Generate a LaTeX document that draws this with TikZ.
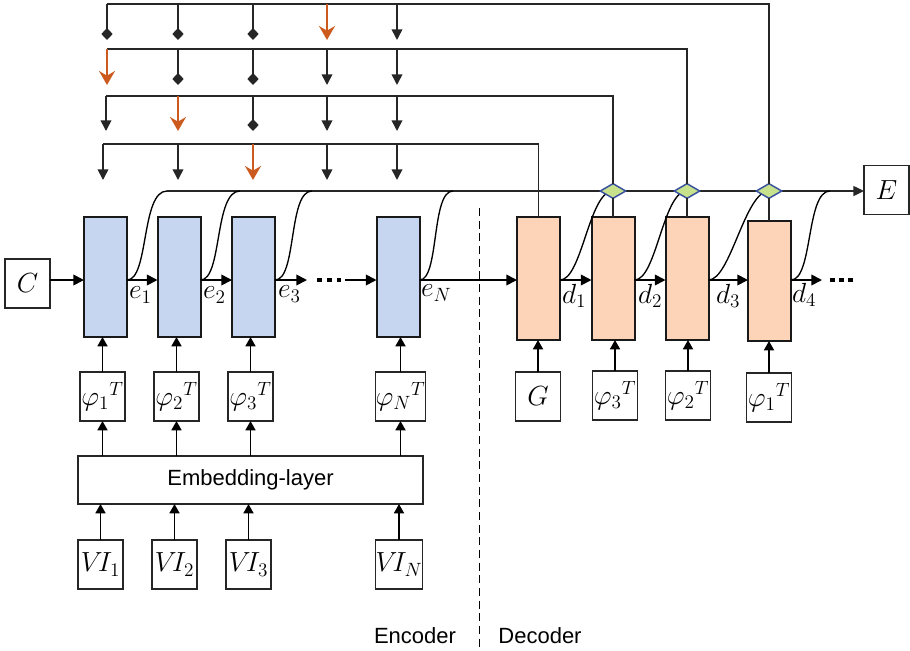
\documentclass[tikz,border=0pt]{standalone}
\usepackage{fontspec}
\newfontfamily\partfont{Liberation Sans}
\usetikzlibrary{arrows.meta,shapes.geometric}
\definecolor{encfill}{RGB}{198,213,240}
\definecolor{decfill}{RGB}{253,212,183}
\definecolor{gatefill}{RGB}{200,225,140}
\definecolor{gateline}{RGB}{55,80,160}
\definecolor{pick}{RGB}{204,90,30}
\begin{document}
\begin{tikzpicture}[x=0.75pt,y=-0.75pt,
  every node/.style={inner sep=0pt,outer sep=0pt},
  labeltext/.style={font=\fontsize{20}{24}\selectfont},
  parttext/.style={font=\partfont\fontsize{16.5}{19}\selectfont},
  encbox/.style={draw=black!90,line width=1.5pt,fill=encfill,minimum width=32.25pt,minimum height=90pt},
  decbox/.style={draw=black!90,line width=1.5pt,fill=decfill,minimum width=32.25pt,minimum height=92.25pt},
  inbox/.style={draw=black!85,line width=1.1pt,fill=white,minimum width=33.75pt,minimum height=36.75pt,labeltext},
  gatebox/.style={diamond,draw=gateline,line width=1.1pt,fill=gatefill,minimum width=19pt,minimum height=11pt},
  fwd/.style={line width=1.3pt,-{Triangle[length=8pt,width=8pt]}},
  upfeed/.style={line width=1.3pt,-{Triangle[length=7pt,width=7.5pt]}},
  tline/.style={line width=1pt,draw=black!85},
  sweep/.style={line width=1pt,draw=black},
  dropsel/.style={tline,line width=1.2pt,-{Triangle[length=8pt,width=8pt]}},
  dropskip/.style={tline,line width=1.2pt,-{Diamond[length=9pt,width=8.5pt]}},
  drophit/.style={line width=1.3pt,draw=pick,-{Stealth[length=10.5pt,width=12pt,inset=3.5pt]}},
  boxdots/.style={fill=black}
]
\useasboundingbox (0,0) rectangle (910,650);

% level of the recurrent chain
\coordinate (lv) at (0,280);

% encoder cells
\node[encbox] (enc1) at (105.5,277) {};
\node[encbox] (enc2) at (179,277) {};
\node[encbox] (enc3) at (253.5,277) {};
\node[encbox] (enc4) at (398,277) {};
% decoder cells
\node[decbox] (dec1) at (538.5,278.5) {};
\node[decbox] (dec2) at (613,278.5) {};
\node[decbox] (dec3) at (687,278.5) {};
\node[decbox,minimum height=90pt] (dec4) at (769.5,281) {};

\node[inbox] (C) at (27.5,283.5) {$C$};
\node[inbox] (E) at (886.5,190) {$E$};

% encoder inputs
\node[inbox] (p1) at (102.5,396.5) {$\varphi_1{}^{T}$};
\node[inbox] (p2) at (176.5,396.5) {$\varphi_2{}^{T}$};
\node[inbox] (p3) at (250.5,396.5) {$\varphi_3{}^{T}$};
\node[inbox] (pN) at (400.5,396.5) {$\varphi_N{}^{T}$};
\node[draw=black!85,line width=1.3pt,minimum width=258.75pt,minimum height=36pt,parttext] (emb) at (250.5,480) {Embedding-layer};
\node[inbox] (v1) at (100.5,564.5) {$V\!I_1$};
\node[inbox] (v2) at (174.5,564.5) {$V\!I_2$};
\node[inbox] (v3) at (248.5,564.5) {$V\!I_3$};
\node[inbox] (vN) at (399,564.5) {$V\!I_N$};

% decoder inputs
\node[inbox] (G) at (538,396.5) {$G$};
\node[inbox] (q3) at (615,395.5) {$\varphi_3{}^{T}$};
\node[inbox] (q2) at (688,395.5) {$\varphi_2{}^{T}$};
\node[inbox] (q1) at (769,397.5) {$\varphi_1{}^{T}$};

% input arrows
\foreach \a/\b in {v1/p1,v2/p2,v3/p3,vN/pN}{
  \draw[upfeed] (\a.north) -- (\a.north |- emb.south);
  \draw[upfeed] (\b.south |- emb.north) -- (\b.south);
}
\foreach \a/\b in {p1/enc1,p2/enc2,p3/enc3,pN/enc4,G/dec1,q3/dec2,q2/dec3,q1/dec4}
  \draw[upfeed] (\a.north) -- (\a.north |- \b.south);

% recurrent chain
\coordinate (gapA) at (307,280);
\coordinate (gapB) at (345,280);
\coordinate (tailD) at (822,280);
\draw[fwd] (C.east |- lv) -- (enc1.west |- lv);
\draw[fwd] (enc1.east |- lv) -- (enc2.west |- lv);
\draw[fwd] (enc2.east |- lv) -- (enc3.west |- lv);
\draw[fwd] (enc3.east |- lv) -- (gapA);
\draw[fwd] (gapB) -- (enc4.west |- lv);
\draw[fwd] (enc4.east |- lv) -- (dec1.west |- lv);
\draw[fwd] (dec1.east |- lv) -- (dec2.west |- lv);
\draw[fwd] (dec2.east |- lv) -- (dec3.west |- lv);
\draw[fwd] (dec3.east |- lv) -- (dec4.west |- lv);
\draw[fwd] (dec4.east |- lv) -- (tailD);
\foreach \x in {319.5,329.5,339}
  \fill[boxdots] (\x-2.4,277.6) rectangle (\x+2.4,282.4);
\foreach \x in {832.5,841.5,850.5}
  \fill[boxdots] (\x-2.4,277.6) rectangle (\x+2.4,282.4);

% state labels
\node[labeltext,anchor=west] (le1) at (129,295) {$e_1$};
\node[labeltext,anchor=west] (le2) at (203,295) {$e_2$};
\node[labeltext,anchor=west] (le3) at (278,294) {$e_3$};
\node[labeltext,anchor=west] (leN) at (421,293) {$e_N$};
\node[labeltext,anchor=west] (ld1) at (562,296) {$d_1$};
\node[labeltext,anchor=west] (ld2) at (638,296) {$d_2$};
\node[labeltext,anchor=west] (ld3) at (716,296) {$d_3$};
\node[labeltext,anchor=west] (ld4) at (792,295) {$d_4$};

% gates on the output line
\coordinate (gp1) at (613,191);
\coordinate (gp2) at (687,191);
\coordinate (gp3) at (769,191);

% output line and the curves feeding it
\coordinate (s1) at (167,191);
\coordinate (s2) at (240,191);
\coordinate (s3) at (312,191);
\coordinate (s4) at (453,191);
\coordinate (s8) at (830,191);
\draw[tline,-{Triangle[length=8pt,width=7.5pt]}] (s1) -- (s1 -| E.west);
\draw[sweep] (enc1.east |- lv) .. controls +(22,0) and +(-26,0) .. (s1);
\draw[sweep] (enc2.east |- lv) .. controls +(22,0) and +(-26,0) .. (s2);
\draw[sweep] (enc3.east |- lv) .. controls +(22,0) and +(-24,0) .. (s3);
\draw[sweep] (enc4.east |- lv) .. controls +(20,0) and +(-22,0) .. (s4);
\draw[sweep] (dec1.east |- lv) .. controls +(22,0) and +(-24,0) .. (gp1);
\draw[sweep] (dec2.east |- lv) .. controls +(22,0) and +(-24,0) .. (gp2);
\draw[sweep] (dec3.east |- lv) .. controls +(22,0) and +(-24,0) .. (gp3);
\draw[sweep] (dec4.east |- lv) .. controls +(22,0) and +(-24,0) .. (s8);

\node[gatebox] (g1) at (gp1) {};
\node[gatebox] (g2) at (gp2) {};
\node[gatebox] (g3) at (gp3) {};
\draw[tline] (g1.south) -- (g1.south |- dec2.north);
\draw[tline] (g2.south) -- (g2.south |- dec3.north);
\draw[tline] (g3.south) -- (g3.south |- dec4.north);

% attention rows above the encoder
\coordinate (r1) at (107,4);
\coordinate (r2) at (107,49);
\coordinate (r3) at (106,96);
\coordinate (r4) at (103,144);
\draw[tline] (g3.north) |- (r1);
\draw[tline] (g2.north) |- (r2);
\draw[tline] (g1.north) |- (r3);
\draw[tline] (dec1.north) |- (r4);
\foreach \r/\e/\ka/\kb/\kc/\kd/\ke in {
   r1/40/dropskip/dropskip/dropskip/drophit/dropsel,
   r2/85/drophit/dropskip/dropskip/dropsel/dropsel,
   r3/131/dropsel/drophit/dropskip/dropsel/dropsel,
   r4/180/dropsel/dropsel/drophit/dropsel/dropsel}{
  \draw[\ka] (\r) -- (\r |- 0,\e);
  \draw[\kb] (178,0 |- \r) -- (178,\e);
  \draw[\kc] (253,0 |- \r) -- (253,\e);
  \draw[\kd] (327,0 |- \r) -- (327,\e);
  \draw[\ke] (397,0 |- \r) -- (397,\e);
}

% encoder / decoder split
\coordinate (splitTop) at (479.5,208);
\coordinate (splitBot) at (479.5,650);
\draw[line width=1.2pt,dash pattern=on 6pt off 3.5pt] (splitTop) -- (splitBot);
\node[parttext] (encname) at (415,636) {Encoder};
\node[parttext] (decname) at (540,636) {Decoder};
\end{tikzpicture}
\end{document}
